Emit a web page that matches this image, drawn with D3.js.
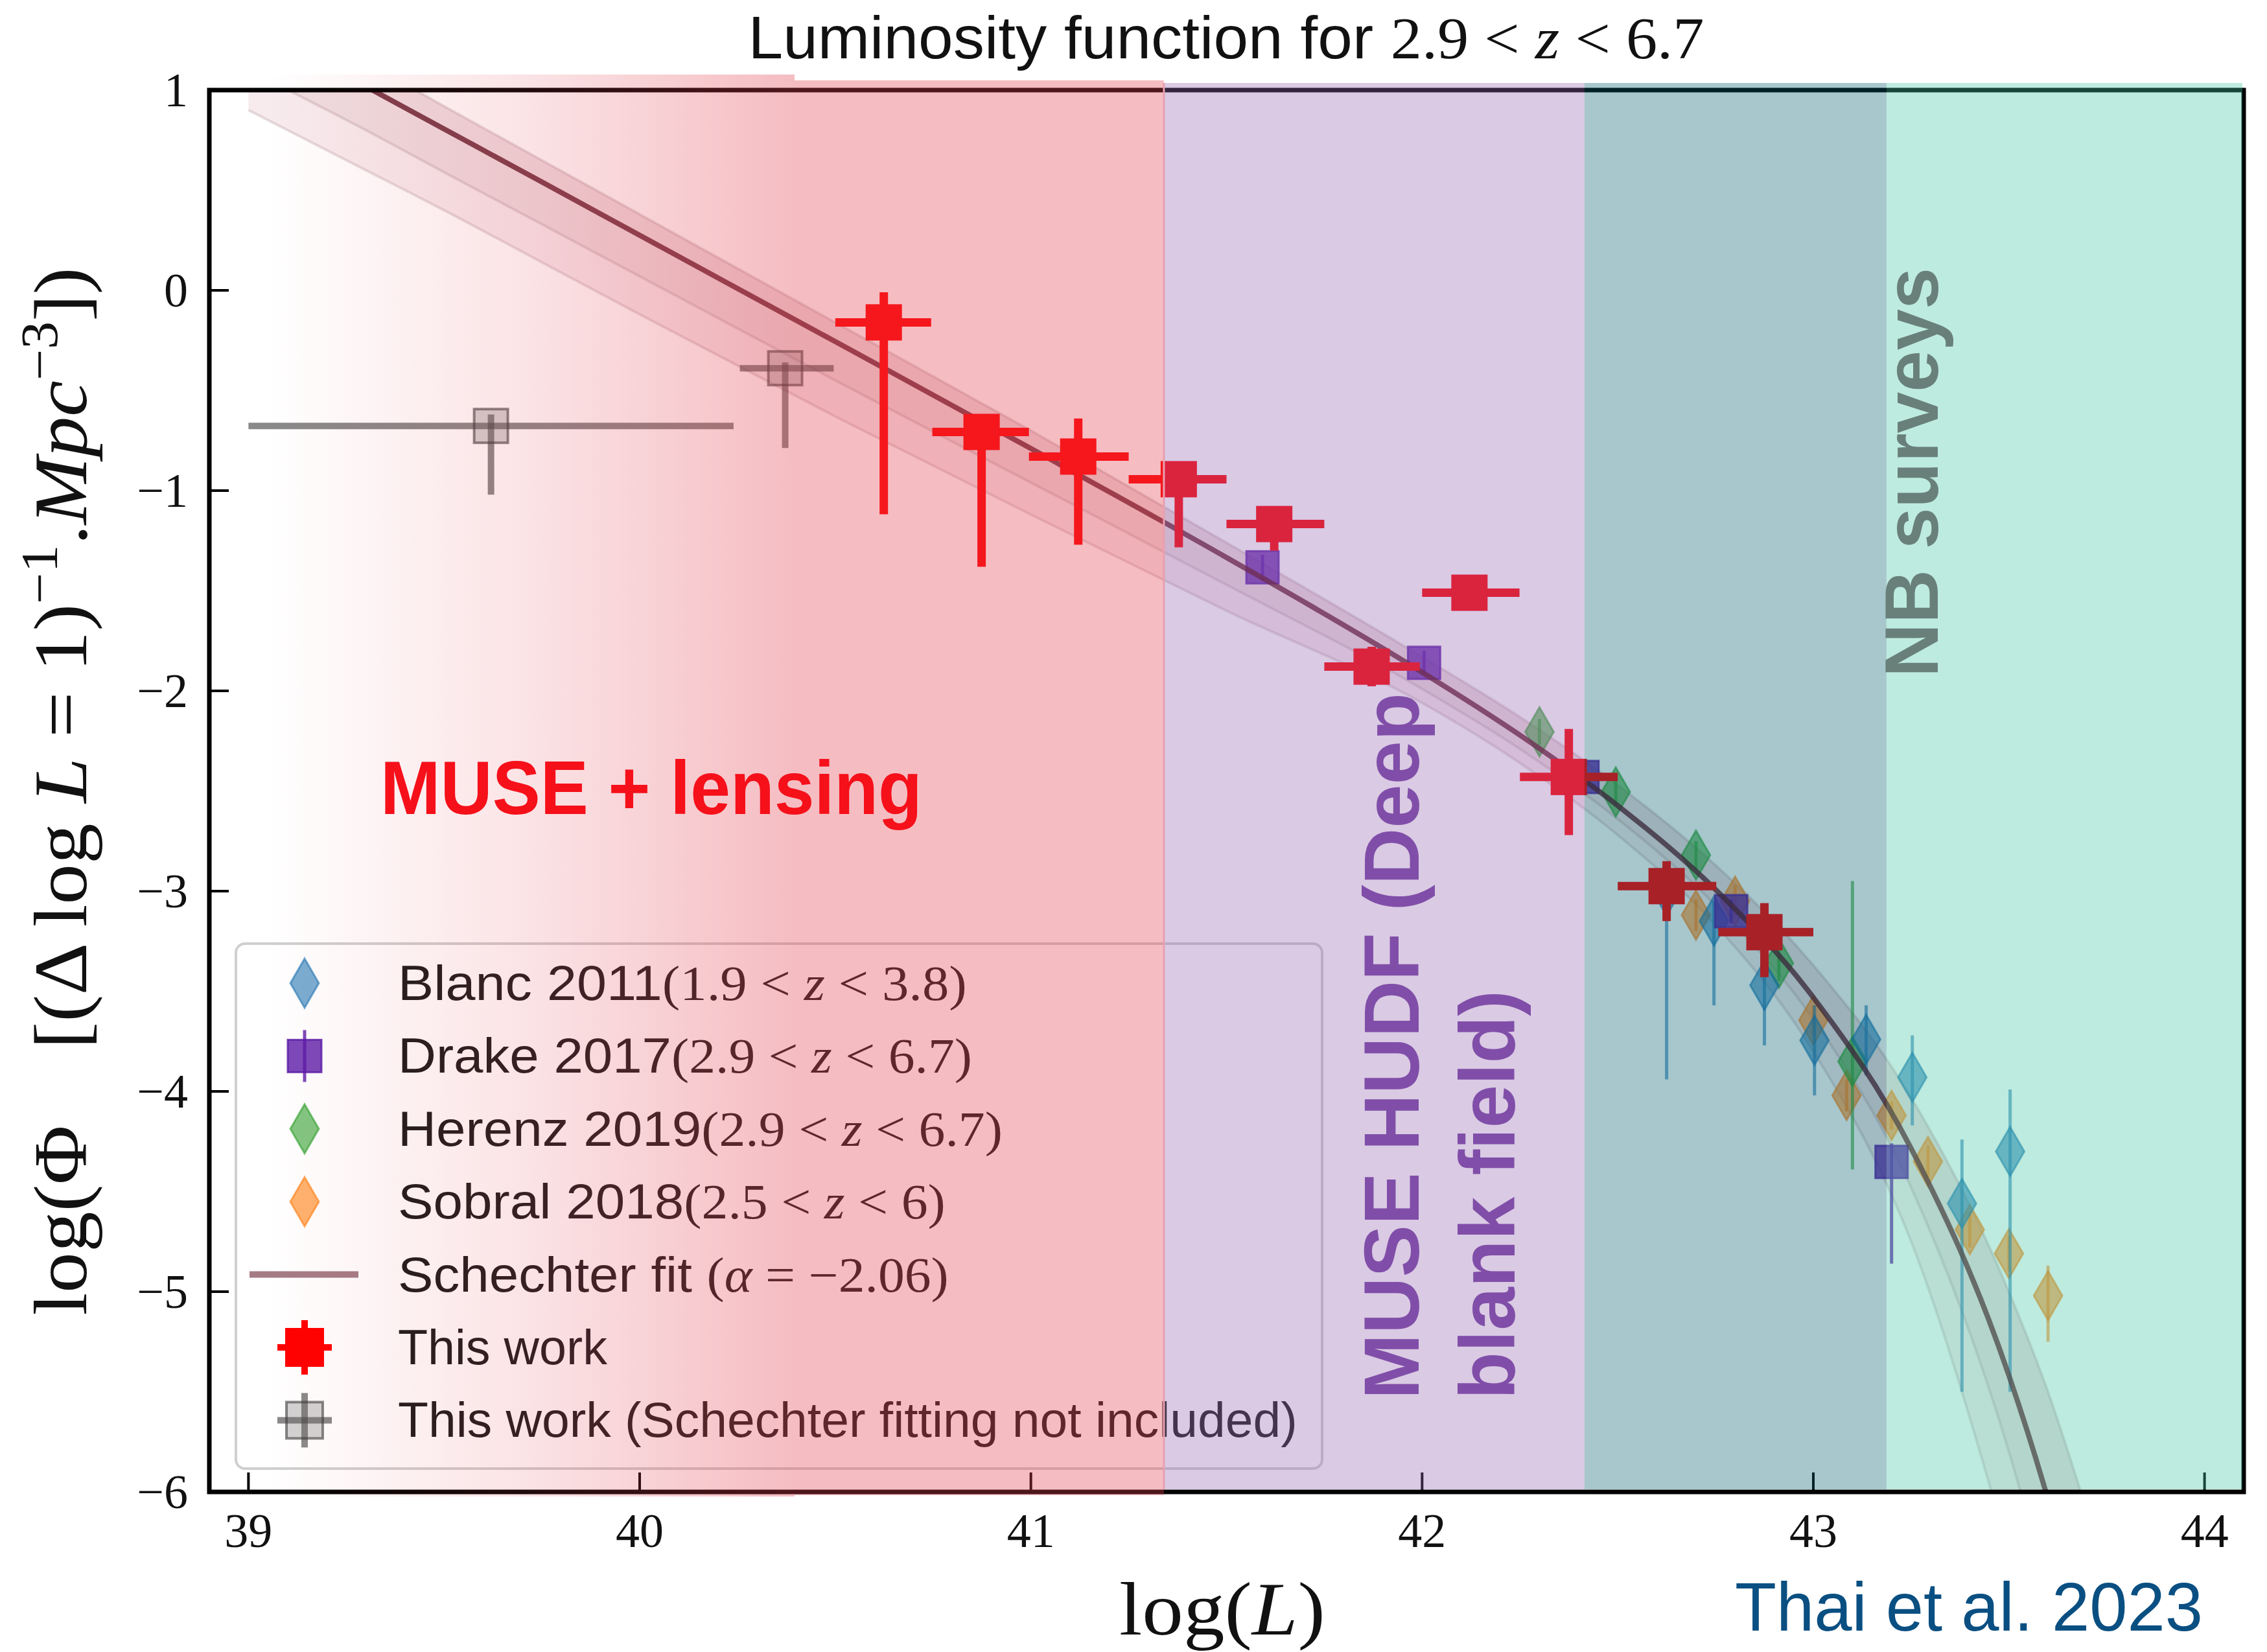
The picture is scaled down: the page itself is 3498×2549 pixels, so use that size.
<!DOCTYPE html>
<html>
<head>
<meta charset="utf-8">
<title>Luminosity function for 2.9 &lt; z &lt; 6.7</title>
<script src="https://cdn.jsdelivr.net/npm/d3@7/dist/d3.min.js"></script>
<style>
  html, body { margin: 0; padding: 0; background: #ffffff; }
  svg { display: block; }
</style>
</head>
<body>
<svg id="chart" width="3498" height="2549" xmlns="http://www.w3.org/2000/svg"></svg>
<script>
// ---------- axis ticks ----------
const xTickValues = [39, 40, 41, 42, 43, 44];
const xTickLabels = ["39", "40", "41", "42", "43", "44"];
const yTickValues = [1, 0, -1, -2, -3, -4, -5, -6];
const yTickLabels = ["1", "0", "\u22121", "\u22122", "\u22123", "\u22124", "\u22125", "\u22126"];

// ---------- this work: bins used in the Schechter fit ----------
const workLogL   = [40.624, 40.874, 41.121, 41.378, 41.622, 41.871, 42.121, 42.375, 42.625, 42.875];
const workLogPhi = [-0.16, -0.707, -0.83, -0.943, -1.167, -1.879, -1.51, -2.43, -2.975, -3.205];
const workBinLo  = [40.50, 40.748, 40.995, 41.25, 41.50, 41.75, 42.0, 42.25, 42.50, 42.757];
const workBinHi  = [40.745, 40.995, 41.25, 41.50, 41.75, 41.994, 42.249, 42.50, 42.752, 43.0];
const workPhiLo  = [-1.118, -1.38, -1.27, -1.283, -1.30, -1.977, -1.56, -2.72, -3.15, -3.43];
const workPhiHi  = [-0.01, -0.63, -0.64, -0.862, -1.086, -1.78, -1.46, -2.19, -2.85, -3.06];

// ---------- this work: bins left out of the fit ----------
const exclLogL   = [39.62, 40.372];
const exclLogPhi = [-0.677, -0.389];
const exclBinLo  = [39.0, 40.256];
const exclBinHi  = [40.24, 40.496];
const exclPhiLo  = [-1.02, -0.787];
const exclPhiHi  = [-0.62, -0.36];

// ---------- Blanc 2011 ----------
const blancLogL   = [42.625, 42.746, 42.875, 43.003, 43.135, 43.253, 43.38, 43.503];
const blancLogPhi = [-3.0, -3.15, -3.47, -3.745, -3.74, -3.93, -4.56, -4.30];
const blancPhiLo  = [-3.94, -3.57, -3.77, -4.02, -3.92, -4.17, -5.50, -5.50];
const blancPhiHi  = [-2.95, -3.05, -3.27, -3.57, -3.57, -3.72, -4.24, -3.99];

// ---------- Drake 2017 ----------
const drakeLogL   = [41.592, 42.005, 42.41, 42.79, 43.20];
const drakeLogPhi = [-1.383, -1.86, -2.43, -3.10, -4.352];
const drakePhiLo  = [-1.45, -1.92, -2.49, -3.16, -4.86];
const drakePhiHi  = [-1.32, -1.80, -2.37, -3.04, -4.26];

// ---------- Herenz 2019 ----------
const herenzLogL   = [42.30, 42.495, 42.70, 42.912, 43.10];
const herenzLogPhi = [-2.205, -2.505, -2.82, -3.36, -3.85];
const herenzPhiLo  = [-2.27, -2.57, -2.89, -3.45, -4.39];
const herenzPhiHi  = [-2.14, -2.44, -2.75, -3.27, -2.95];

// ---------- Sobral 2018 ----------
const sobralLogL   = [42.70, 42.80, 43.00, 43.085, 43.20, 43.293, 43.40, 43.50, 43.60];
const sobralLogPhi = [-3.12, -3.05, -3.645, -4.02, -4.12, -4.35, -4.69, -4.81, -5.02];
const sobralPhiLo  = [-3.20, -3.13, -3.72, -4.10, -4.19, -4.43, -4.78, -4.90, -5.25];
const sobralPhiHi  = [-3.04, -2.97, -3.57, -3.94, -4.05, -4.27, -4.60, -4.72, -4.87];

// ---------- Schechter fit (alpha = -2.06): best fit and spread of samples ----------
const fitLogL    = [39.0, 39.3, 39.5, 39.75, 40.0, 40.5, 41.0, 41.5, 42.0, 42.25, 42.5, 42.75, 43.0, 43.25, 43.5, 43.6, 43.7];
const fitLogPhi  = [1.336, 1.018, 0.806, 0.541, 0.275, -0.256, -0.790, -1.334, -1.907, -2.221, -2.573, -2.992, -3.531, -4.285, -5.419, -6.039, -6.79];
const fitLowPhi  = [0.90, 0.60, 0.40, 0.14, -0.12, -0.63, -1.12, -1.60, -2.06, -2.36, -2.72, -3.17, -3.80, -4.75, -6.30, -7.0, -7.7];
const fitMidPhi  = [1.10, 0.80, 0.59, 0.33, 0.07, -0.45, -0.96, -1.47, -1.99, -2.29, -2.64, -3.07, -3.64, -4.48, -5.80, -6.5, -7.2];
const fitHighPhi = [1.46, 1.14, 0.92, 0.65, 0.38, -0.16, -0.70, -1.26, -1.83, -2.13, -2.47, -2.87, -3.37, -4.03, -5.0, -5.5, -6.1];

// ---------- survey regions (edges in log L) ----------
const lensFadeStart = 39.05;
const lensSolidStart = 40.396;
const hudfStart = 41.34;
const nbStart = 42.415;
const hudfEnd = 43.187;

// ---------- legend ----------
const legendNames = ["Blanc 2011", "Drake 2017", "Herenz 2019", "Sobral 2018", "Schechter fit ", "This work", "This work (Schechter fitting not included)"];
const legendZLo = ["1.9", "2.9", "2.9", "2.5"];
const legendZHi = ["3.8", "6.7", "6.7", "6"];
const legendWidths = [878, 886, 933, 845, 850, 324, 1388];

const serif = "'Liberation Serif','DejaVu Serif',serif";
const sans = "'Liberation Sans',Arial,'DejaVu Sans',sans-serif";

const svg = d3.select("#chart");
const X0 = 323, X1 = 3462, Y0 = 139, Y1 = 2302;
const x = d3.scaleLinear().domain([38.9, 44.1]).range([X0, X1]);
const y = d3.scaleLinear().domain([-6, 1]).range([Y1, Y0]);

svg.append("rect").attr("width", 3498).attr("height", 2549).attr("fill", "#ffffff");

const defs = svg.append("defs");
defs.append("clipPath").attr("id", "plotClip")
  .append("rect").attr("x", X0).attr("y", Y0).attr("width", X1 - X0).attr("height", Y1 - Y0);

const plot = svg.append("g").attr("clip-path", "url(#plotClip)");

// horizontal scale about an anchor so a label spans a given length
function fitWidth(sel, target) {
  const bb = sel.node().getBBox();
  const ax = +sel.attr("x") || 0;
  const s = target / bb.width;
  sel.attr("transform", `translate(${ax},0) scale(${s},1) translate(${-ax},0)`);
}

// ---------- Schechter fit spread ----------
const idx = d3.range(fitLogL.length);
plot.append("path")
  .attr("d", d3.area().x(i => x(fitLogL[i])).y0(i => y(fitLowPhi[i])).y1(i => y(fitHighPhi[i])).curve(d3.curveMonotoneX)(idx))
  .attr("fill", "#c06878").attr("opacity", 0.13);
plot.append("path")
  .attr("d", d3.area().x(i => x(fitLogL[i])).y0(i => y(fitMidPhi[i])).y1(i => y(fitHighPhi[i])).curve(d3.curveMonotoneX)(idx))
  .attr("fill", "#a86070").attr("opacity", 0.1);
const fitLine = arr => d3.line().x(i => x(fitLogL[i])).y(i => y(arr[i])).curve(d3.curveMonotoneX)(idx);
[fitLowPhi, fitMidPhi, fitHighPhi].forEach(arr => {
  plot.append("path").attr("d", fitLine(arr)).attr("fill", "none")
    .attr("stroke", "#8a6a70").attr("stroke-opacity", 0.2).attr("stroke-width", 4);
});

// ---------- marker helpers ----------
function diamondPath(cx, cy) {
  return `M${cx},${cy - 38}L${cx + 22},${cy}L${cx},${cy + 38}L${cx - 22},${cy}Z`;
}

function literature(L, phi, lo, hi, color, alpha, shape) {
  const g = plot.append("g");
  const n = d3.range(L.length);
  g.selectAll("line").data(n).join("line")
    .attr("x1", i => x(L[i])).attr("x2", i => x(L[i]))
    .attr("y1", i => y(lo[i])).attr("y2", i => y(hi[i]))
    .attr("stroke", color).attr("stroke-opacity", alpha).attr("stroke-width", 5);
  if (shape === "diamond") {
    g.selectAll("path").data(n).join("path")
      .attr("d", i => diamondPath(x(L[i]), y(phi[i])))
      .attr("fill", color).attr("fill-opacity", alpha)
      .attr("stroke", color).attr("stroke-opacity", alpha).attr("stroke-width", 3);
  } else {
    g.selectAll("rect").data(n).join("rect")
      .attr("x", i => x(L[i]) - 25).attr("y", i => y(phi[i]) - 25)
      .attr("width", 50).attr("height", 50)
      .attr("fill", color).attr("fill-opacity", alpha)
      .attr("stroke", color).attr("stroke-opacity", alpha).attr("stroke-width", 3);
  }
}

const cBlanc = "#1f77b4", cHerenz = "#2ca02c", cSobral = "#ff7f0e", cDrake = "#5a1aa8";
literature(sobralLogL, sobralLogPhi, sobralPhiLo, sobralPhiHi, cSobral, 0.6, "diamond");
literature(herenzLogL, herenzLogPhi, herenzPhiLo, herenzPhiHi, cHerenz, 0.6, "diamond");
literature(blancLogL, blancLogPhi, blancPhiLo, blancPhiHi, cBlanc, 0.6, "diamond");
literature(drakeLogL, drakeLogPhi, drakePhiLo, drakePhiHi, cDrake, 0.8, "square");

// ---------- best-fit Schechter curve ----------
plot.append("path").attr("d", fitLine(fitLogPhi)).attr("fill", "none")
  .attr("stroke", "#5a1020").attr("stroke-opacity", 0.78).attr("stroke-width", 8);

// ---------- this work ----------
function thisWork(L, phi, bLo, bHi, pLo, pHi, color, alpha, fill, fillAlpha, lw) {
  const g = plot.append("g");
  const n = d3.range(L.length);
  g.selectAll("line.h").data(n).join("line").attr("class", "h")
    .attr("x1", i => x(bLo[i])).attr("x2", i => x(bHi[i]))
    .attr("y1", i => y(phi[i])).attr("y2", i => y(phi[i]))
    .attr("stroke", color).attr("stroke-opacity", alpha).attr("stroke-width", lw);
  g.selectAll("line.v").data(n).join("line").attr("class", "v")
    .attr("x1", i => x(L[i])).attr("x2", i => x(L[i]))
    .attr("y1", i => y(pLo[i])).attr("y2", i => y(pHi[i]))
    .attr("stroke", color).attr("stroke-opacity", alpha).attr("stroke-width", lw);
  g.selectAll("rect").data(n).join("rect")
    .attr("x", i => x(L[i]) - 26).attr("y", i => y(phi[i]) - 26)
    .attr("width", 52).attr("height", 52)
    .attr("fill", fill).attr("fill-opacity", fillAlpha)
    .attr("stroke", color).attr("stroke-opacity", alpha).attr("stroke-width", 4);
}
thisWork(exclLogL, exclLogPhi, exclBinLo, exclBinHi, exclPhiLo, exclPhiHi, "#3a3a3a", 0.6, "#6a6a6a", 0.3, 10);
thisWork(workLogL, workLogPhi, workBinLo, workBinHi, workPhiLo, workPhiHi, "#ff0000", 1, "#ff0000", 1, 13);

// ---------- axes frame and ticks ----------
const axes = svg.append("g");
axes.selectAll("line.xt").data(xTickValues).join("line").attr("class", "xt")
  .attr("x1", d => x(d)).attr("x2", d => x(d)).attr("y1", Y1).attr("y2", Y1 - 30)
  .attr("stroke", "#000").attr("stroke-width", 4);
axes.selectAll("line.yt").data(yTickValues).join("line").attr("class", "yt")
  .attr("x1", X0).attr("x2", X0 + 30).attr("y1", d => y(d)).attr("y2", d => y(d))
  .attr("stroke", "#000").attr("stroke-width", 4);
axes.append("rect").attr("x", X0).attr("y", Y0).attr("width", X1 - X0).attr("height", Y1 - Y0)
  .attr("fill", "none").attr("stroke", "#000").attr("stroke-width", 7);

axes.selectAll("text.xl").data(xTickValues).join("text").attr("class", "xl")
  .attr("x", d => x(d)).attr("y", 2387).attr("text-anchor", "middle")
  .attr("font-family", serif).attr("font-size", 74).attr("fill", "#111")
  .text((d, i) => xTickLabels[i]);
axes.selectAll("text.yl").data(yTickValues).join("text").attr("class", "yl")
  .attr("x", 290).attr("y", d => y(d) + 25).attr("text-anchor", "end")
  .attr("font-family", serif).attr("font-size", 74).attr("fill", "#111")
  .text((d, i) => yTickLabels[i]);

// ---------- legend ----------
const leg = svg.append("g");
leg.append("rect").attr("x", 364).attr("y", 1456).attr("width", 1676).attr("height", 810)
  .attr("rx", 14).attr("fill", "#ffffff").attr("fill-opacity", 0.8)
  .attr("stroke", "#cfcfcf").attr("stroke-width", 4);
const rowY = i => 1517 + i * 112.4;
const mx = 470;
// Blanc, Herenz, Sobral diamonds
[[0, cBlanc], [2, cHerenz], [3, cSobral]].forEach(([r, c]) => {
  leg.append("path").attr("d", diamondPath(mx, rowY(r)))
    .attr("fill", c).attr("fill-opacity", 0.6).attr("stroke", c).attr("stroke-opacity", 0.6).attr("stroke-width", 3);
});
// Drake square with error bar
leg.append("line").attr("x1", mx).attr("x2", mx).attr("y1", rowY(1) - 40).attr("y2", rowY(1) + 40)
  .attr("stroke", cDrake).attr("stroke-opacity", 0.8).attr("stroke-width", 5);
leg.append("rect").attr("x", mx - 26).attr("y", rowY(1) - 25).attr("width", 52).attr("height", 50)
  .attr("fill", cDrake).attr("fill-opacity", 0.8).attr("stroke", cDrake).attr("stroke-opacity", 0.8).attr("stroke-width", 3);
// Schechter line
leg.append("line").attr("x1", 385).attr("x2", 553).attr("y1", rowY(4)).attr("y2", rowY(4))
  .attr("stroke", "#5a1020").attr("stroke-opacity", 0.55).attr("stroke-width", 10);
// this work markers
[[5, "#ff0000", 1, "#ff0000", 1], [6, "#3a3a3a", 0.6, "#6a6a6a", 0.3]].forEach(([r, c, a, f, fa]) => {
  leg.append("line").attr("x1", mx - 42).attr("x2", mx + 42).attr("y1", rowY(r)).attr("y2", rowY(r))
    .attr("stroke", c).attr("stroke-opacity", a).attr("stroke-width", 10);
  leg.append("line").attr("x1", mx).attr("x2", mx).attr("y1", rowY(r) - 42).attr("y2", rowY(r) + 42)
    .attr("stroke", c).attr("stroke-opacity", a).attr("stroke-width", 10);
  leg.append("rect").attr("x", mx - 28).attr("y", rowY(r) - 28).attr("width", 56).attr("height", 56)
    .attr("fill", f).attr("fill-opacity", fa).attr("stroke", c).attr("stroke-opacity", a).attr("stroke-width", 4);
});
// legend labels
legendNames.forEach((name, i) => {
  const t = leg.append("text").attr("x", 614).attr("y", rowY(i) + 26)
    .attr("font-size", 76).attr("fill", "#1a1a1a");
  t.append("tspan").attr("font-family", sans).text(name);
  if (i < 4) {
    t.append("tspan").attr("font-family", serif).text("(" + legendZLo[i] + " < ");
    t.append("tspan").attr("font-family", serif).attr("font-style", "italic").text("z");
    t.append("tspan").attr("font-family", serif).text(" < " + legendZHi[i] + ")");
  } else if (i === 4) {
    t.append("tspan").attr("font-family", serif).text("(");
    t.append("tspan").attr("font-family", serif).attr("font-style", "italic").text("\u03b1");
    t.append("tspan").attr("font-family", serif).text(" = \u22122.06)");
  }
  fitWidth(t, legendWidths[i]);
});

// ---------- survey regions drawn over the plot ----------
const over = svg.append("g");
const pink = "#e24251", purple = "#9568b2", teal = "#045f70", mint = "#45c6a4";
const grad = defs.append("linearGradient").attr("id", "lensFade")
  .attr("gradientUnits", "userSpaceOnUse")
  .attr("x1", x(lensFadeStart)).attr("x2", x(lensSolidStart)).attr("y1", 0).attr("y2", 0);
grad.append("stop").attr("offset", 0).attr("stop-color", pink).attr("stop-opacity", 0);
grad.append("stop").attr("offset", 0.5).attr("stop-opacity", 0.15).attr("stop-color", pink);
grad.append("stop").attr("offset", 1).attr("stop-color", pink).attr("stop-opacity", 0.35);
over.append("rect").attr("x", X0).attr("y", 115).attr("width", x(lensSolidStart) - X0).attr("height", 2309 - 115)
  .attr("fill", "url(#lensFade)");
over.append("rect").attr("x", x(lensSolidStart)).attr("y", 124).attr("width", x(hudfStart) - x(lensSolidStart)).attr("height", 2307 - 124)
  .attr("fill", pink).attr("fill-opacity", 0.35);
over.append("rect").attr("x", x(hudfStart)).attr("y", 128).attr("width", x(nbStart) - x(hudfStart)).attr("height", 2298 - 128)
  .attr("fill", purple).attr("fill-opacity", 0.35);
over.append("rect").attr("x", x(nbStart)).attr("y", 128).attr("width", x(hudfEnd) - x(nbStart)).attr("height", 2298 - 128)
  .attr("fill", teal).attr("fill-opacity", 0.35);
over.append("rect").attr("x", x(hudfEnd)).attr("y", 128).attr("width", X1 - 2 - x(hudfEnd)).attr("height", 2298 - 128)
  .attr("fill", mint).attr("fill-opacity", 0.35);
over.append("line").attr("x1", x(hudfStart)).attr("x2", x(hudfStart)).attr("y1", 128).attr("y2", 2298)
  .attr("stroke", "#e8a0b0").attr("stroke-width", 3);

// ---------- region annotations ----------
const lens = svg.append("text").attr("x", 587).attr("y", 1256)
  .attr("font-family", sans).attr("font-weight", "bold").attr("font-size", 117)
  .attr("fill", "#f5101a").text("MUSE + lensing");
fitWidth(lens, 836);

function vertical(px, py, str, size, color, len) {
  const g = svg.append("g").attr("transform", `translate(${px},${py}) rotate(-90)`);
  const t = g.append("text").attr("x", 0).attr("y", 0)
    .attr("font-family", sans).attr("font-weight", "bold").attr("font-size", size)
    .attr("fill", color).text(str);
  fitWidth(t, len);
}
vertical(2189, 2159, "MUSE HUDF (Deep", 120, "#804ea8", 1090);
vertical(2337, 2159, "blank field)", 120, "#804ea8", 631);
vertical(2990, 1045, "NB surveys", 116, "#69807a", 632);

// ---------- title ----------
const title = svg.append("text").attr("x", 1892).attr("y", 90).attr("text-anchor", "middle")
  .attr("font-size", 92).attr("fill", "#111");
title.append("tspan").attr("font-family", sans).text("Luminosity function for ");
title.append("tspan").attr("font-family", serif).text("2.9 < ");
title.append("tspan").attr("font-family", serif).attr("font-style", "italic").text("z");
title.append("tspan").attr("font-family", serif).text(" < 6.7");
fitWidth(title, 1475);

// ---------- axis labels ----------
const xl = svg.append("text").attr("x", 1886).attr("y", 2522).attr("text-anchor", "middle")
  .attr("font-family", serif).attr("font-size", 117).attr("fill", "#111");
xl.append("tspan").text("log(");
xl.append("tspan").attr("font-style", "italic").text("L");
xl.append("tspan").text(")");
fitWidth(xl, 318);

const ylg = svg.append("g").attr("transform", "translate(133,1221) rotate(-90)");
const yl = ylg.append("text").attr("x", 0).attr("y", 0).attr("text-anchor", "middle")
  .attr("font-family", serif).attr("font-size", 117).attr("fill", "#111");
yl.append("tspan").text("log(\u03a6");
yl.append("tspan").attr("dx", 110).text("[(\u0394 log ");
yl.append("tspan").attr("font-style", "italic").text("L");
yl.append("tspan").text(" = 1)");
yl.append("tspan").attr("font-size", 80).attr("dy", -45).text("\u22121");
yl.append("tspan").attr("dy", 45).text(".");
yl.append("tspan").attr("font-style", "italic").text("Mpc");
yl.append("tspan").attr("font-size", 80).attr("dy", -45).text("\u22123");
yl.append("tspan").attr("dy", 45).text("])");
fitWidth(yl, 1617);

// ---------- credit ----------
const credit = svg.append("text").attr("x", 2677).attr("y", 2516)
  .attr("font-family", sans).attr("font-size", 105).attr("fill", "#0a4f82")
  .text("Thai et al. 2023");
fitWidth(credit, 722);
</script>
</body>
</html>
